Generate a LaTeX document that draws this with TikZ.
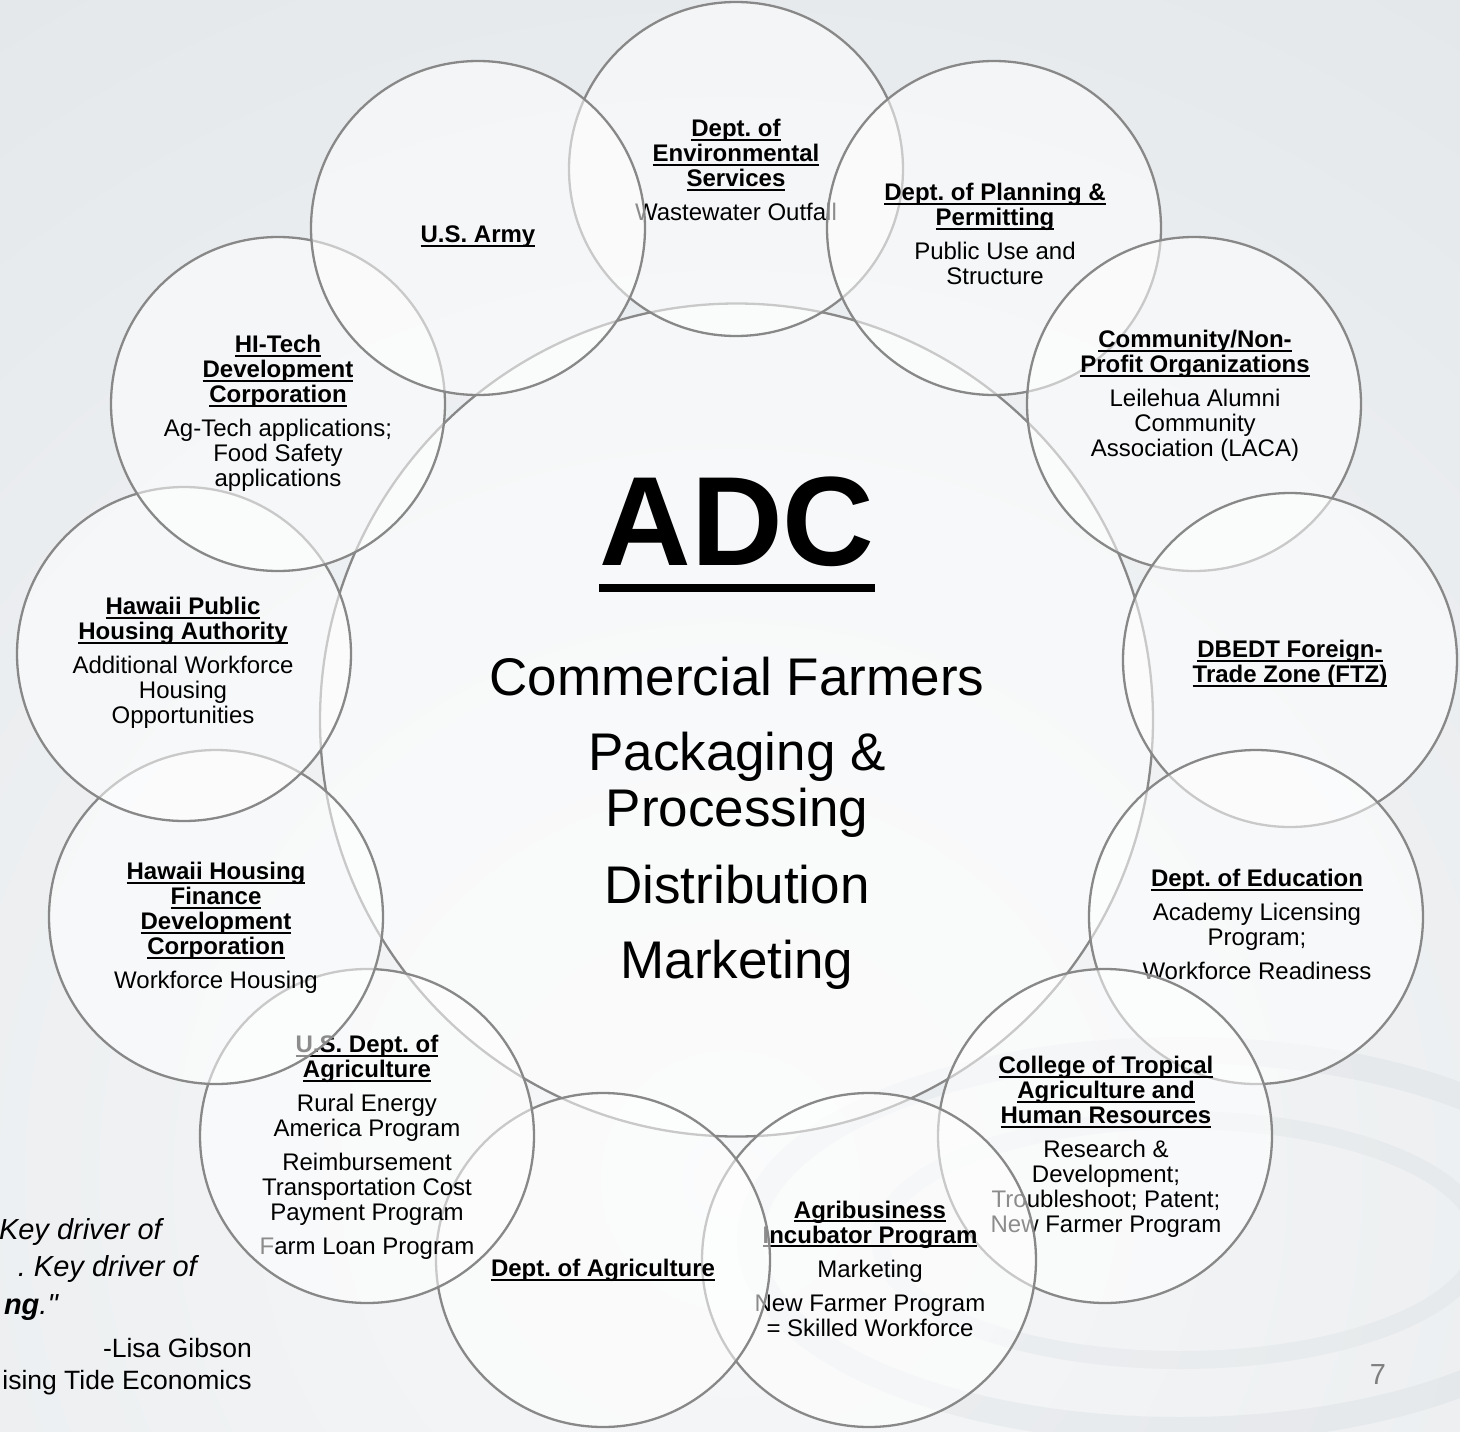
\documentclass[tikz,border=0pt]{standalone}
\usepackage{fontspec}
\setmainfont{Liberation Sans}
\newfontfamily\qfont{Liberation Sans}
\frenchspacing
\definecolor{bgc}{HTML}{E2E6E9}
\definecolor{glow}{HTML}{F7F8F9}
\definecolor{cline}{HTML}{888888}
\definecolor{pnum}{HTML}{7F7F7F}
\definecolor{ripple}{HTML}{CBD1D6}
\definecolor{greytxt}{HTML}{8C8C8C}
\newcommand\ulx[3]{\setbox0=\hbox{#3}\rlap{\rule[#1]{\wd0}{#2}}\box0}
\newcommand\hd[1]{\textbf{\ulx{-4.3pt}{1.9pt}{#1}}}
\begin{document}
\begin{tikzpicture}[x=1pt,y=-1pt,
  circ/.style={draw=cline, line width=2.3pt, fill=white, fill opacity=0.55},
  org/.style={align=center, inner sep=0pt, text=black, font=\fontsize{24}{25}\selectfont},
  mainlist/.style={align=center, inner sep=0pt, text=black, font=\fontsize{53}{56}\selectfont},
  quote/.style={inner sep=0pt, text=black, font=\qfont\fontsize{29}{38}\selectfont\itshape},
  attrib/.style={inner sep=0pt, text=black, font=\qfont\fontsize{26.5}{32}\selectfont}]
\useasboundingbox (0,0) rectangle (1460,1432);
% background
\begin{scope}
  \clip (0,0) rectangle (1460,1432);
  \fill[bgc] (0,0) rectangle (1460,1432);
  \shade[inner color=glow, outer color=bgc] (730,1180) circle[radius=1560];
  \draw[ripple, line width=26pt, opacity=0.22] (1180,1240) ellipse[x radius=430, y radius=190];
  \draw[ripple, line width=18pt, opacity=0.18] (1180,1240) ellipse[x radius=300, y radius=120];
\end{scope}
% centres
\coordinate (cmain) at (736.5,720);
\coordinate (cenv) at (736,169);
\coordinate (cplan) at (994,228);
\coordinate (ccomm) at (1194,404);
\coordinate (cdbedt) at (1290,660);
\coordinate (cedu) at (1256,917);
\coordinate (cctahr) at (1105,1136);
\coordinate (cagri) at (869,1260);
\coordinate (cdoa) at (603,1260);
\coordinate (cusda) at (367,1136);
\coordinate (chhfdc) at (216,917);
\coordinate (chpha) at (184,654);
\coordinate (chitech) at (278,404);
\coordinate (carmy) at (478,228);
% main circle
\draw[circ] (cmain) circle[radius=416.5];
\node[inner sep=0pt, text=black, font=\fontsize{127}{130}\selectfont\bfseries, anchor=base] (adc) at (737,565) {\ulx{-27pt}{8pt}{ADC}};
\node[mainlist] (mainl) at (737,823) {Commercial Farmers\\[19pt] Packaging \&\\ Processing\\[21pt] Distribution\\[19pt] Marketing};
% outer circles in drawing order
\draw[circ] (cenv) circle[radius=167];
\node[org] (tenv) at (736,170) {\hd{Dept. of}\\ \hd{Environmental}\\ \hd{Services}\\[9pt] Wastewater Outfall};
\draw[circ] (cplan) circle[radius=167];
\node[org] (tplan) at (995,234) {\hd{Dept. of Planning \&}\\ \hd{Permitting}\\[9pt] Public Use and\\ Structure};
\draw[circ] (ccomm) circle[radius=167];
\node[org] (tcomm) at (1195,396) {\hd{Community/Non-}\\ \hd{Profit Organizations}\\[9pt] Leilehua Alumni\\ Community\\ Association (LACA)};
\draw[circ] (cdbedt) circle[radius=167];
\node[org] (tdbedt) at (1290,663.5) {\hd{DBEDT Foreign-}\\ \hd{Trade Zone (FTZ)}};
\draw[circ] (cedu) circle[radius=167];
\node[org] (tedu) at (1257,924.5) {\hd{Dept. of Education}\\[9pt] Academy Licensing\\ Program;\\[9pt] Workforce Readiness};
\draw[circ] (cctahr) circle[radius=167];
\node[org] (tctahr) at (1106,1146.5) {\hd{College of Tropical}\\ \hd{Agriculture and}\\ \hd{Human Resources}\\[9pt] Research \&\\ Development;\\ Troubleshoot; Patent;\\ New Farmer Program};
\draw[circ] (cagri) circle[radius=167];
\node[org] (tagri) at (870,1268.5) {\hd{Agribusiness}\\ \hd{Incubator Program}\\[9pt] Marketing\\[9pt] New Farmer Program\\ = Skilled Workforce};
\draw[circ] (cdoa) circle[radius=167];
\node[org] (tdoa) at (603,1270.5) {\hd{Dept. of Agriculture}};
\draw[circ] (cusda) circle[radius=167];
\node[org] (tusda) at (367,1147) {\hd{U.S. Dept. of}\\ \hd{Agriculture}\\[9pt] Rural Energy\\ America Program\\[9pt] Reimbursement\\ Transportation Cost\\ Payment Program\\[9pt] {\color{greytxt}F}arm Loan Program};
\draw[circ] (chhfdc) circle[radius=167];
\node[org] (thhfdc) at (216,927.5) {\hd{Hawaii Housing}\\ \hd{Finance}\\ \hd{Development}\\ \hd{Corporation}\\[9pt] Workforce Housing};
\draw[circ] (chpha) circle[radius=167];
\node[org] (thpha) at (183,663) {\hd{Hawaii Public}\\ \hd{Housing Authority}\\[9pt] Additional Workforce\\ Housing\\ Opportunities};
\draw[circ] (chitech) circle[radius=167];
\node[org] (thitech) at (278,413.5) {\hd{HI-Tech}\\ \hd{Development}\\ \hd{Corporation}\\[9pt] Ag-Tech applications;\\ Food Safety\\ applications};
\draw[circ] (carmy) circle[radius=167];
\node[org] (tarmy) at (478,236.5) {\hd{U.S. Army}};
% quote (cut at the left edge, as in the slide)
\begin{scope}
  \clip (0,0) rectangle (1460,1432);
  \node[quote, anchor=base east] (q1) at (162,1239) {Key driver of};
  \node[quote, anchor=base east] (q2) at (197,1276) {. Key driver of};
  \node[quote, anchor=base east] (q3) at (58,1314) {\textbf{ng}."};
  \node[attrib, anchor=base east] (q4) at (252,1357) {-Lisa Gibson};
  \node[attrib, anchor=base east] (q5) at (252,1389) {ising Tide Economics};
\end{scope}
\node[inner sep=0pt, text=pnum, font=\fontsize{29}{32}\selectfont] (pnum) at (1378,1375) {7};
\end{tikzpicture}
\end{document}
